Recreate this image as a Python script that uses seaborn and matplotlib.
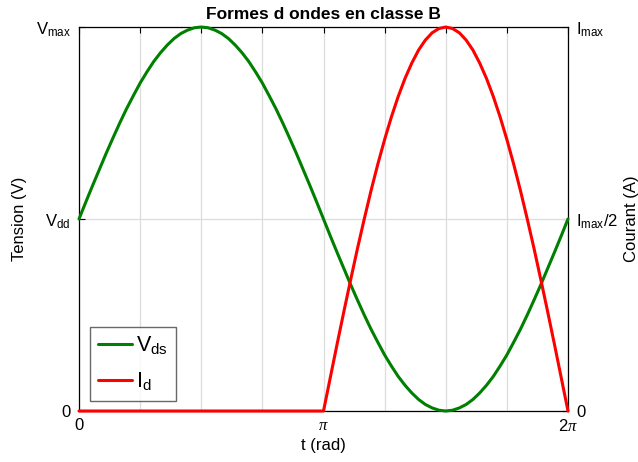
import numpy as np
import pandas as pd
import matplotlib
matplotlib.use("Agg")
import matplotlib.pyplot as plt
import seaborn as sns

# angle in degrees (0 .. 360 = 0 .. 2*pi)
t_deg = list(range(0, 365, 5))
# V_ds as fraction of V_max (V_dd = 0.5)
v_ds = [0.500, 0.544, 0.587, 0.629, 0.671, 0.711, 0.750, 0.787, 0.821, 0.854,
        0.883, 0.910, 0.933, 0.953, 0.970, 0.983, 0.992, 0.998, 1.000, 0.998,
        0.992, 0.983, 0.970, 0.953, 0.933, 0.910, 0.883, 0.854, 0.821, 0.787,
        0.750, 0.711, 0.671, 0.629, 0.587, 0.544, 0.500, 0.456, 0.413, 0.371,
        0.329, 0.289, 0.250, 0.213, 0.179, 0.146, 0.117, 0.090, 0.067, 0.047,
        0.030, 0.017, 0.008, 0.002, 0.000, 0.002, 0.008, 0.017, 0.030, 0.047,
        0.067, 0.090, 0.117, 0.146, 0.179, 0.213, 0.250, 0.289, 0.329, 0.371,
        0.413, 0.456, 0.500]
# I_d as fraction of I_max
i_d = [0.0] * 37 + [0.087, 0.174, 0.259, 0.342, 0.423, 0.500, 0.574, 0.643,
                    0.707, 0.766, 0.819, 0.866, 0.906, 0.940, 0.966, 0.985,
                    0.996, 1.000, 0.996, 0.985, 0.966, 0.940, 0.906, 0.866,
                    0.819, 0.766, 0.707, 0.643, 0.574, 0.500, 0.423, 0.342,
                    0.259, 0.174, 0.087, 0.000]

x_tick_labels = ["0", "", "", "", r"$\mathit{\pi}$", "", "", "", r"2$\mathit{\pi}$"]
y_left_labels = ["0", r"V$_{\mathrm{dd}}$", r"V$_{\mathrm{max}}$"]
y_right_labels = ["0", r"I$_{\mathrm{max}}$/2", r"I$_{\mathrm{max}}$"]
series_names = [r"V$_{\mathrm{ds}}$", r"I$_{\mathrm{d}}$"]

sns.set_theme(style="white")
plt.rcParams["font.family"] = ["Liberation Sans", "DejaVu Sans"]
plt.rcParams["mathtext.fontset"] = "custom"
plt.rcParams["mathtext.rm"] = "Liberation Sans"
plt.rcParams["mathtext.it"] = "Liberation Serif:italic"
plt.rcParams["mathtext.default"] = "regular"
for k in ["text.color", "axes.labelcolor", "xtick.color", "ytick.color"]:
    plt.rcParams[k] = "black"

df = pd.DataFrame({
    "t": t_deg * 2,
    "val": v_ds + i_d,
    "serie": [series_names[0]] * len(t_deg) + [series_names[1]] * len(t_deg),
})

fig = plt.figure(figsize=(6.38, 4.62), dpi=100)
ax = fig.add_axes([79 / 638, 1 - 411 / 462, (568 - 79) / 638, (411 - 27) / 462])

sns.lineplot(data=df, x="t", y="val", hue="serie",
             palette=["#008000", "#ff0000"], linewidth=2.2, ax=ax,
             legend=True)
for ln in ax.lines:
    ln.set_clip_on(False)
    ln.set_zorder(5)

ax.set_xlim(0, 360)
ax.set_ylim(0, 1)
ax.set_xticks(np.arange(0, 361, 45))
ax.set_xticklabels(x_tick_labels, fontsize=12)
ax.set_yticks([0, 0.5, 1])
ax.set_yticklabels(y_left_labels, fontsize=12)
ax.tick_params(axis="both", which="major", direction="in", length=4,
               width=0.8, colors="black", top=True)
ax.tick_params(axis="y", pad=6)
ax.tick_params(axis="x", pad=5)
ax.grid(True, axis="both", which="major", color="#dddddd", linewidth=0.9)
for s in ax.spines.values():
    s.set_color("black")
    s.set_linewidth(0.9)
ax.set_xlabel("t (rad)", fontsize=12, labelpad=3)
ax.set_ylabel("Tension (V)", fontsize=12, labelpad=6)
ax.set_title("Formes d ondes en classe B", fontsize=12.5, fontweight="bold", pad=6)

ax2 = ax.twinx()
ax2.set_ylim(0, 1)
ax2.set_yticks([0, 0.5, 1])
ax2.set_yticklabels(y_right_labels, fontsize=12)
ax2.tick_params(axis="y", direction="in", length=4, width=0.8, pad=6,
                colors="black")
ax2.set_ylabel("Courant (A)", fontsize=12, labelpad=4)
for s in ax2.spines.values():
    s.set_visible(False)

leg = ax.legend(loc="lower left", bbox_to_anchor=(0.022, 0.026), fontsize=15.5,
                frameon=True, fancybox=False, edgecolor="#444444",
                handlelength=1.6, handletextpad=0.15, borderpad=0.38,
                labelspacing=0.6, borderaxespad=0, title=None)
leg.get_frame().set_linewidth(1.0)
leg.set_zorder(10)
ax.set_zorder(ax2.get_zorder() + 1)
ax.patch.set_visible(False)

fig.savefig("out.png", dpi=100)
